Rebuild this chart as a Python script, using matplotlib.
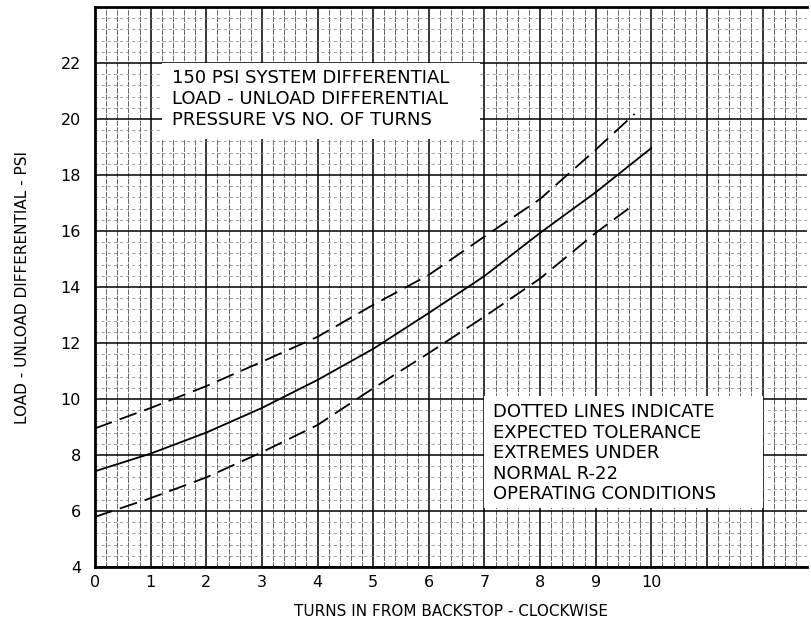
import matplotlib
matplotlib.use("Agg")
import matplotlib.pyplot as plt
from matplotlib.patches import Rectangle
from matplotlib.ticker import MultipleLocator, FixedLocator, FixedFormatter

# ---- data ----
turns_mid = [0, 1, 2, 3, 4, 5, 6, 7, 8, 9, 10]
psi_mid = [7.42, 8.05, 8.8, 9.68, 10.68, 11.79, 13.07, 14.39, 15.93, 17.38, 18.96]

turns_upper = [0, 1, 2, 3, 4, 5, 6, 7, 8, 9, 9.7]
psi_upper = [8.95, 9.68, 10.46, 11.33, 12.22, 13.36, 14.43, 15.8, 17.14, 18.9, 20.18]

turns_lower = [0, 1, 2, 3, 4, 5, 6, 7, 8, 9, 9.7]
psi_lower = [5.79, 6.46, 7.2, 8.1, 9.07, 10.38, 11.64, 12.94, 14.3, 15.93, 16.96]

x_tick_labels = ["0", "1", "2", "3", "4", "5", "6", "7", "8", "9", "10", "", ""]
y_ticks = [4, 6, 8, 10, 12, 14, 16, 18, 20, 22, 24]
y_tick_labels = ["4", "6", "8", "10", "12", "14", "16", "18", "20", "22", ""]

title_lines = ["150 PSI SYSTEM DIFFERENTIAL",
               "LOAD - UNLOAD DIFFERENTIAL",
               "PRESSURE VS NO. OF TURNS"]
note_lines = ["DOTTED LINES INDICATE",
              "EXPECTED TOLERANCE",
              "EXTREMES UNDER",
              "NORMAL R-22",
              "OPERATING CONDITIONS"]

# ---- figure ----
plt.rcParams['font.family'] = ['DejaVu Sans']
fig = plt.figure(figsize=(8.11, 6.24), dpi=100)
ax = fig.add_axes([95/811, 1-567/624, (807-95)/811, (567-7)/624])
ax.set_xlim(0, 12.8)
ax.set_ylim(4, 24)

# grid
ax.xaxis.set_minor_locator(MultipleLocator(0.2))
ax.yaxis.set_minor_locator(MultipleLocator(0.4))
ax.xaxis.set_major_locator(FixedLocator(list(range(0, 13))))
ax.xaxis.set_major_formatter(FixedFormatter(x_tick_labels))
ax.yaxis.set_major_locator(FixedLocator(y_ticks))
ax.yaxis.set_major_formatter(FixedFormatter(y_tick_labels))

ax.grid(which='major', axis='x', color='black', lw=1.1, zorder=0)
ax.grid(which='minor', axis='x', color='#3a3a3a', lw=0.55, ls=(0, (7, 1.5)), zorder=0)
ax.grid(which='major', axis='y', color='black', lw=1.1, zorder=0)
ax.grid(which='minor', axis='y', color='#888888', lw=0.55, ls=(0, (4, 4)), zorder=0)
ax.set_axisbelow(True)
ax.tick_params(which='both', length=0, labelsize=11.5)
ax.tick_params(axis='x', pad=6)
ax.tick_params(axis='y', pad=10)

for s in ['left', 'bottom', 'top']:
    ax.spines[s].set_linewidth(2.0)
ax.spines['right'].set_visible(False)

# white text boxes
ax.add_patch(Rectangle((1.2, 19.3), 5.72, 2.7, facecolor='white', edgecolor='none', zorder=1))
ax.add_patch(Rectangle((7.0, 6.1), 5.0, 4.0, facecolor='white', edgecolor='none', zorder=1))

# curves
dash = (0, (10, 4.5))
ax.plot(turns_mid, psi_mid, color='black', lw=1.3, zorder=3)
ax.plot(turns_upper, psi_upper, color='black', lw=1.3, ls=dash, zorder=3)
ax.plot(turns_lower, psi_lower, color='black', lw=1.3, ls=dash, zorder=3)

# annotations
ax.text(1.38, 21.78, "\n".join(title_lines), fontsize=13, va='top', ha='left',
        linespacing=1.22, zorder=4)
ax.text(7.15, 9.85, "\n".join(note_lines), fontsize=13, va='top', ha='left',
        linespacing=1.18, zorder=4)

ax.set_xlabel("TURNS IN FROM BACKSTOP - CLOCKWISE", fontsize=11, labelpad=10)
ax.set_ylabel("LOAD - UNLOAD DIFFERENTIAL - PSI", fontsize=11, labelpad=22)

fig.savefig("out.png", dpi=100)
